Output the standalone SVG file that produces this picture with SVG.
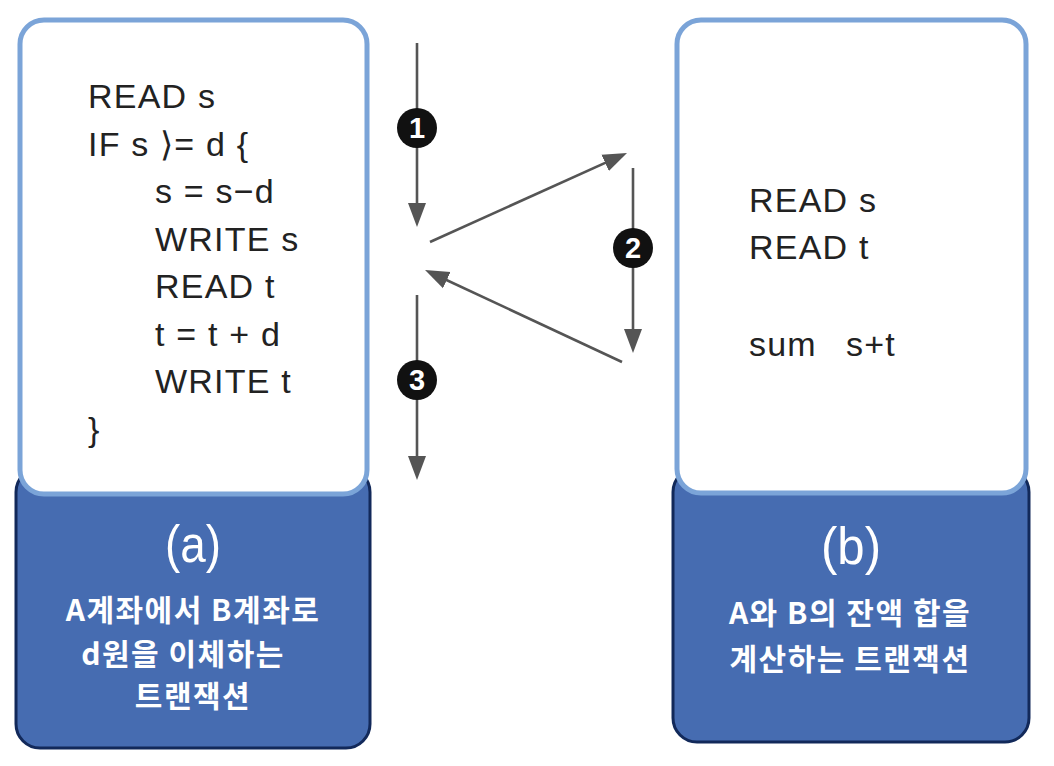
<svg xmlns="http://www.w3.org/2000/svg" width="1054" height="766" viewBox="0 0 1054 766">
<defs>
<style>
.outer{fill:#466cb1;stroke:#12295a;stroke-width:3}
.inner{fill:#fff;stroke:#7ba4d8;stroke-width:5}
.code{font-family:"Liberation Sans",Arial,sans-serif;font-size:34px;fill:#222;letter-spacing:1.2px}
.lbl{font-family:"Liberation Sans",Arial,sans-serif;font-size:52px;fill:#fff;text-anchor:middle}
.kr{font-family:"Noto Sans CJK KR","Noto Sans",sans-serif;font-size:30px;font-weight:700;fill:#fff;text-anchor:middle;letter-spacing:1.5px}
.conn line{stroke:#555;stroke-width:2.6;fill:none}
.num circle{fill:#111}
.num text{font-family:"Liberation Sans",Arial,sans-serif;font-size:29px;font-weight:700;fill:#fff;text-anchor:middle}
</style>
<marker id="ah" markerUnits="userSpaceOnUse" markerWidth="26" markerHeight="20" refX="14" refY="10" orient="auto">
<path d="M0,1 L24,10 L0,19 z" fill="#555"/>
</marker>
</defs>
<rect width="1054" height="766" fill="#fff"/>

<g id="node-a">
<rect class="outer" x="16" y="468" width="354" height="280" rx="24"/>
<rect class="inner" x="20" y="20" width="347" height="474" rx="24"/>
<text class="code" x="88" y="108">READ s</text>
<text class="code" x="88" y="156">IF s ⟩= d {</text>
<text class="code" x="155" y="203">s = s−d</text>
<text class="code" x="155" y="251">WRITE s</text>
<text class="code" x="155" y="298">READ t</text>
<text class="code" x="155" y="346">t = t + d</text>
<text class="code" x="155" y="393">WRITE t</text>
<text class="code" x="88" y="441">}</text>
<text class="lbl" x="193" y="562" textLength="56" lengthAdjust="spacingAndGlyphs">(a)</text>
<text class="kr" x="193" y="621">A계좌에서 B계좌로</text>
<text class="kr" x="183" y="665">d원을 이체하는</text>
<text class="kr" x="193" y="707">트랜잭션</text>
</g>

<g id="node-b">
<rect class="outer" x="673" y="468" width="356" height="274" rx="24"/>
<rect class="inner" x="677" y="20" width="349" height="473" rx="24"/>
<text class="code" x="749" y="212">READ s</text>
<text class="code" x="749" y="259">READ t</text>
<text class="code" x="749" y="356">sum</text>
<text class="code" x="846" y="356">s+t</text>
<text class="lbl" x="851" y="564" textLength="60" lengthAdjust="spacingAndGlyphs">(b)</text>
<text class="kr" x="850" y="624">A와 B의 잔액 합을</text>
<text class="kr" x="850" y="670">계산하는 트랜잭션</text>
</g>

<g id="connectors" class="conn">
<line x1="417" y1="43" x2="417" y2="217" marker-end="url(#ah)"/>
<line x1="430" y1="242" x2="617.9" y2="157.1" marker-end="url(#ah)"/>
<line x1="633" y1="168" x2="633" y2="343" marker-end="url(#ah)"/>
<line x1="622" y1="362" x2="434.1" y2="274.2" marker-end="url(#ah)"/>
<line x1="417" y1="295" x2="417" y2="470" marker-end="url(#ah)"/>
</g>

<g id="step-1" class="num"><circle cx="417" cy="128" r="20"/><text x="417" y="138">1</text></g>
<g id="step-2" class="num"><circle cx="633" cy="248" r="20"/><text x="633" y="258">2</text></g>
<g id="step-3" class="num"><circle cx="417" cy="380" r="20"/><text x="417" y="390">3</text></g>
</svg>
